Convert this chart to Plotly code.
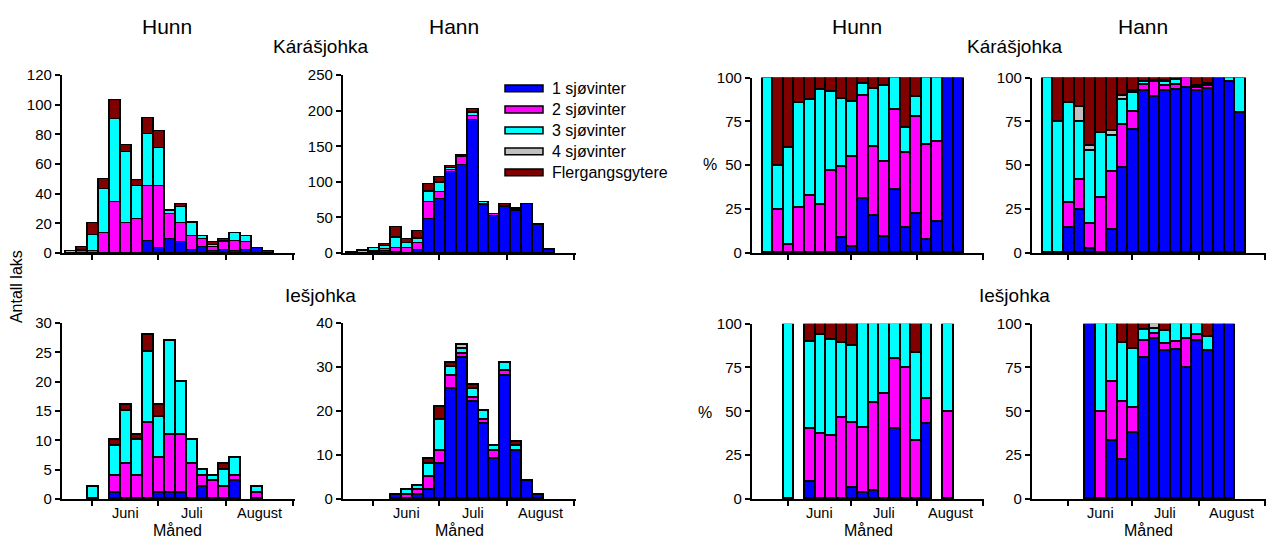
import plotly.graph_objects as go
import pandas as pd

W, H = 1267, 549

series = ["1 sjøvinter", "2 sjøvinter", "3 sjøvinter", "4 sjøvinter", "Flergangsgytere"]
colors = ["#0000FF", "#FF00FF", "#00FFFF", "#C0C0C0", "#800000"]

# 5-day periods (start dates)
period_start = pd.date_range("2000-05-20", periods=19, freq="5D")
month_starts = ["2000-06-01", "2000-07-01", "2000-08-01", "2000-09-01"]
month_labels = ["Juni", "Juli", "August"]
month_mid = ["2000-06-16", "2000-07-16 12:00", "2000-08-16 12:00"]

# Kárášjohka, hunn (antall laks)
kar_hunn_1sw = [0, 0, 0, 0, 0, 0, 0, 8, 3, 9, 7, 2, 4, 1, 2, 1, 2, 3, 1]
kar_hunn_2sw = [0, 1, 1, 13, 34, 20, 23, 37, 42, 17, 13, 9, 5, 3, 5, 7, 5, 0, 0]
kar_hunn_3sw = [1, 1, 11, 30, 56, 48, 22, 35, 26, 2, 11, 9, 2, 1, 1, 5, 4, 0, 0]
kar_hunn_4sw = [0] * 19
kar_hunn_flg = [0, 2, 8, 7, 13, 5, 4, 11, 11, 1, 2, 1, 0, 2, 1, 0, 0, 0, 0]

# Kárášjohka, hann
kar_hann_1sw = [0, 0, 1, 3, 1, 0, 4, 47, 75, 113, 123, 187, 67, 51, 64, 59, 68, 39, 4]
kar_hann_2sw = [0, 0, 1, 2, 5, 6, 10, 24, 11, 4, 12, 6, 2, 3, 1, 1, 0, 0, 0]
kar_hann_3sw = [1, 3, 4, 4, 15, 7, 6, 14, 12, 2, 1, 4, 2, 0, 1, 1, 0, 1, 1]
kar_hann_4sw = [0, 0, 0, 1, 1, 0, 1, 2, 1, 0, 0, 1, 0, 0, 0, 0, 0, 0, 0]
kar_hann_flg = [0, 1, 1, 2, 14, 6, 9, 10, 8, 3, 2, 4, 1, 0, 3, 2, 0, 0, 0]

# Iešjohka, hunn
ies_hunn_1sw = [0, 0, 0, 0, 1, 0, 0, 0, 1, 1, 1, 0, 2, 0, 0, 3, 0, 0, 0]
ies_hunn_2sw = [0, 0, 0, 0, 3, 6, 4, 13, 6, 10, 10, 6, 2, 3, 2, 1, 0, 1, 0]
ies_hunn_3sw = [0, 0, 2, 0, 5, 9, 6, 12, 7, 16, 9, 4, 1, 1, 3, 3, 0, 1, 0]
ies_hunn_4sw = [0] * 19
ies_hunn_flg = [0, 0, 0, 0, 1, 1, 1, 3, 2, 0, 0, 0, 0, 0, 1, 0, 0, 0, 0]

# Iešjohka, hann
ies_hann_1sw = [0, 0, 0, 0, 1, 0, 1, 2, 8, 25, 32, 22, 17, 9, 28, 11, 4, 1, 0]
ies_hann_2sw = [0, 0, 0, 0, 0, 1, 1, 3, 3, 3, 1, 1, 1, 2, 1, 0, 0, 0, 0]
ies_hann_3sw = [0, 0, 0, 0, 0, 1, 1, 3, 7, 2, 1, 2, 2, 1, 2, 1, 0, 0, 0]
ies_hann_4sw = [0, 0, 0, 0, 0, 0, 0, 0, 0, 0, 1, 0, 0, 0, 0, 0, 0, 0, 0]
ies_hann_flg = [0, 0, 0, 0, 0, 0, 0, 1, 3, 1, 0, 1, 0, 0, 0, 1, 0, 0, 0]

kar_hunn = [kar_hunn_1sw, kar_hunn_2sw, kar_hunn_3sw, kar_hunn_4sw, kar_hunn_flg]
kar_hann = [kar_hann_1sw, kar_hann_2sw, kar_hann_3sw, kar_hann_4sw, kar_hann_flg]
ies_hunn = [ies_hunn_1sw, ies_hunn_2sw, ies_hunn_3sw, ies_hunn_4sw, ies_hunn_flg]
ies_hann = [ies_hann_1sw, ies_hann_2sw, ies_hann_3sw, ies_hann_4sw, ies_hann_flg]


def to_percent(groups):
    n = len(groups[0])
    totals = [sum(g[i] for g in groups) for i in range(n)]
    return [[(g[i] / totals[i] * 100 if totals[i] else 0) for i in range(n)] for g in groups]


def px_x(a, b):
    return [a / W, b / W]


def px_y(top, bottom):
    return [1 - bottom / H, 1 - top / H]


count_start = "2000-05-18"
pct_start = "2000-05-15"
x_end = "2000-09-01 12:00"

panels = [
    # data, xdomain px, ydomain px, yrange, dtick, xstart
    (kar_hunn, (61.7, 294.5), (68.3, 251.7), 120, 20, count_start),
    (kar_hann, (342.7, 575.5), (68.3, 251.7), 250, 50, count_start),
    (ies_hunn, (61.7, 294.5), (324.0, 505.7), 30, 5, count_start),
    (ies_hann, (342.7, 575.5), (324.0, 505.7), 40, 10, count_start),
    (to_percent(kar_hunn), (751.7, 984.0), (70.7, 251.7), 100, 25, pct_start),
    (to_percent(kar_hann), (1031.7, 1266.0), (70.7, 251.7), 100, 25, pct_start),
    (to_percent(ies_hunn), (751.7, 984.0), (324.7, 505.7), 100, 25, pct_start),
    (to_percent(ies_hann), (1031.7, 1266.0), (324.7, 505.7), 100, 25, pct_start),
]

bar_width_ms = 5 * 24 * 3600 * 1000
centers = period_start + pd.Timedelta(hours=60)

fig = go.Figure()
layout = {}
for p, (data, xd, yd, ymax, dtick, xstart) in enumerate(panels, start=1):
    xa = "x" if p == 1 else f"x{p}"
    ya = "y" if p == 1 else f"y{p}"
    for s, (name, col) in enumerate(zip(series, colors)):
        vals = [v if v else None for v in data[s]]
        fig.add_trace(go.Bar(
            x=centers, y=vals, name=name, width=bar_width_ms,
            marker=dict(color=col, line=dict(color="black", width=1.5)),
            xaxis=xa, yaxis=ya, legendgroup=name, showlegend=False,
            hovertemplate="%{y}<extra>" + name + "</extra>",
        ))
    layout["xaxis" if p == 1 else f"xaxis{p}"] = dict(
        type="date", domain=px_x(*xd), anchor=ya, range=[xstart, x_end],
        tickmode="array", tickvals=month_starts, ticktext=["", "", "", ""],
        ticks="outside", ticklen=5, tickwidth=1.5, tickcolor="black",
        showline=True, linecolor="black", linewidth=1.6,
        showgrid=False, zeroline=False, fixedrange=True,
    )
    layout["yaxis" if p == 1 else f"yaxis{p}"] = dict(
        domain=px_y(*yd), anchor=xa, range=[0, ymax],
        tickmode="linear", tick0=0, dtick=dtick,
        ticks="outside", ticklen=5, tickwidth=1.5, tickcolor="black",
        showline=True, linecolor="black", linewidth=1.6,
        showgrid=False, zeroline=False, fixedrange=True,
        tickfont=dict(size=15, color="black"),
    )

fig.update_layout(**layout)

ann = []
shapes = []


def text(x, y, t, size, angle=0, anchor="center"):
    ann.append(dict(x=x / W, y=1 - y / H, xref="paper", yref="paper", text=t,
                    showarrow=False, xanchor=anchor, yanchor="middle",
                    font=dict(size=size, color="black"), textangle=angle))


for cx in (166.7, 857):
    text(cx, 18, "Hunn", 21)
for cx in (454, 1143):
    text(cx, 18, "Hann", 21)
for cx in (320, 1015):
    text(cx, 39, "Kárášjohka", 19)
    text(cx, 296, "Iešjohka", 19)
text(16, 287, "Antall laks", 16, -90)
text(710, 160, "%", 16)
text(705, 416, "%", 16)
for cx in (178, 459, 868, 1148):
    text(cx, 538, "Måned", 16)

# month labels under the bottom row
for p in (3, 4, 7, 8):
    xa = f"x{p}"
    for lab, mid in zip(month_labels, month_mid):
        ann.append(dict(x=mid, y=1 - 520 / H, xref=xa, yref="paper", text=lab,
                        showarrow=False, xanchor="center", yanchor="middle",
                        font=dict(size=14.5, color="black")))

# legend (wide swatches as in the original)
leg_rows = [82, 103.7, 125.3, 147, 168.7]
for name, col, ry in zip(series, colors, leg_rows):
    shapes.append(dict(type="rect", xref="paper", yref="paper",
                       x0=505 / W, x1=543 / W, y0=1 - (ry + 3.5) / H, y1=1 - (ry - 3.5) / H,
                       fillcolor=col, line=dict(color="black", width=1.5)))
    text(550, ry, name, 16, anchor="left")

fig.update_layout(
    width=W, height=H, margin=dict(l=0, r=0, t=0, b=0),
    paper_bgcolor="white", plot_bgcolor="white",
    barmode="stack", bargap=0,
    font=dict(family="Liberation Sans, Arial, sans-serif", color="black"),
    annotations=ann, shapes=shapes,
    showlegend=False,
)

fig.write_html("out.html")
